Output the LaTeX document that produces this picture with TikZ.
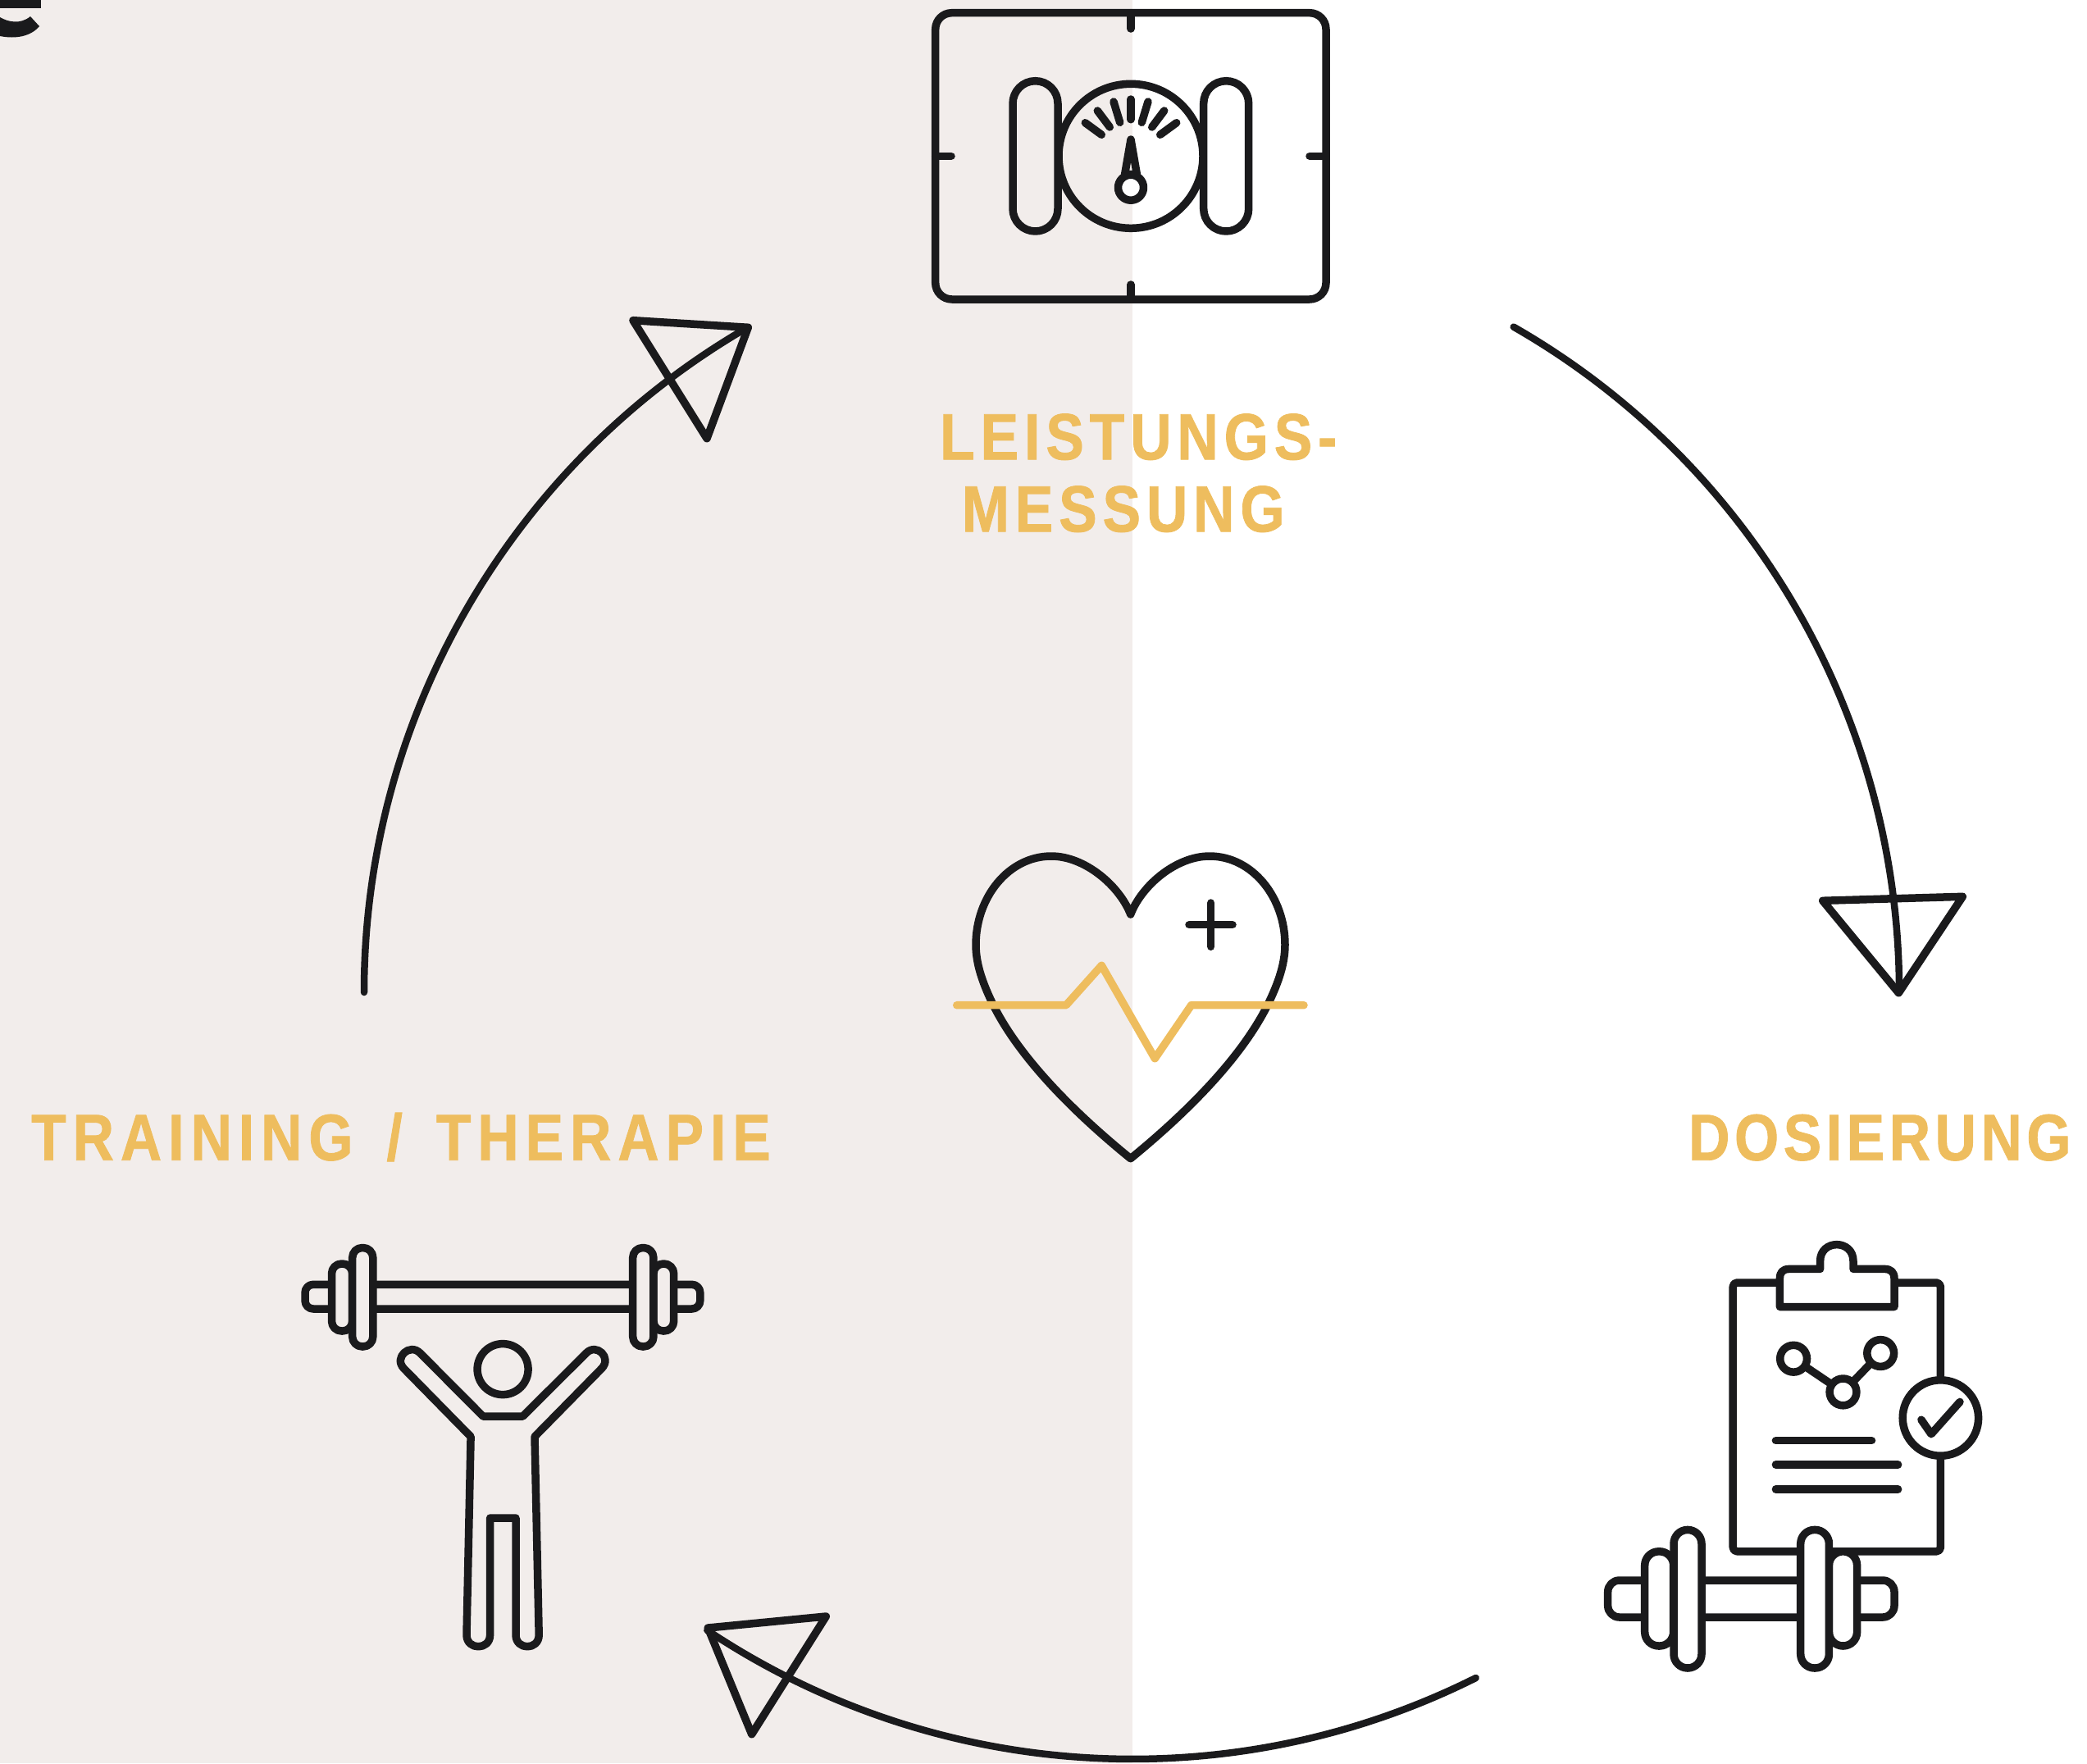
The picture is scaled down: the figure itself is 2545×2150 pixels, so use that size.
\documentclass[tikz,border=0pt]{standalone}
\usepackage{fontspec}
\newfontfamily\labfont[LetterSpace=8.7,FakeStretch=0.87,FakeBold=1]{Liberation Sans}
\newfontfamily\labfontwide[LetterSpace=10,FakeStretch=0.87,FakeBold=1,WordSpace=1.5]{Liberation Sans}
\newfontfamily\labfonttight[LetterSpace=7,FakeStretch=0.87,FakeBold=1]{Liberation Sans}
\definecolor{ink}{HTML}{1A1A1C}
\definecolor{gold}{HTML}{EEBD5E}
\definecolor{paper}{HTML}{F2EDEB}
\tikzset{
  icon/.style={draw=ink,line width=9.5pt,line cap=round,line join=round},
  ecg/.style={draw=gold,line width=9.5pt,line cap=round,line join=round},
  label/.style={text=gold,inner sep=0pt,font=#1\bfseries\fontsize{80}{88}\selectfont},
  pill/.style={icon,rounded corners=#1},
  flow/.style={draw=ink,line width=8.5pt,line cap=round,line join=round},
  tip/.style={draw=ink,line width=9.5pt,line join=round,line cap=round}
}
\begin{document}
\begin{tikzpicture}[x=1pt,y=-1pt]
\useasboundingbox (0,0) rectangle (2545,2150);
\fill[paper] (0,0) rectangle (1381,2150);
% page fragment
\fill[ink] (0,0) rectangle (50,10);
\fill[ink] (0,21) .. controls (10,27) and (25,30) .. (37,20) -- (48,32) .. controls (38,44) and (20,48) .. (0,44) -- cycle;

% scale icon
\draw[pill=20pt] (1140.7,15.7) rectangle (1617,365);
\draw[icon] (1379,15.7) -- (1379,35);
\draw[icon] (1379,347) -- (1379,365);
\draw[icon] (1140.7,190.3) -- (1160,190.3);
\draw[icon] (1597,190.3) -- (1617,190.3);
\draw[pill=27.5pt] (1235,98.7) rectangle (1290,282);
\draw[pill=27.5pt] (1467.7,98.7) rectangle (1522.7,282);
\draw[icon] (1379,190.3) circle[radius=88];
\draw[icon] (1379,121) -- (1379,145.7);
\draw[icon] (1358,124) -- (1365.7,149.3);
\draw[icon] (1400,124) -- (1392.3,149.3);
\draw[icon] (1338.3,135) -- (1353.3,155);
\draw[icon] (1419.7,135) -- (1404.7,155);
\draw[icon] (1323.3,149.7) -- (1343.3,164.3);
\draw[icon] (1434.7,149.7) -- (1414.7,164.3);
\draw[icon] (1379,170) -- (1371.6,212.7) -- (1386.4,212.7) -- cycle;
\draw[icon,fill=white] (1379,228.7) circle[radius=15.5];

% heart
\draw[icon] (1378.7,1115) .. controls (1365,1080) and (1323,1044) .. (1282,1044)
  .. controls (1230,1044) and (1190,1094) .. (1190,1152)
  .. controls (1190,1175) and (1198,1198) .. (1210,1223)
  .. controls (1245,1295) and (1320,1365) .. (1378.7,1412.7)
  .. controls (1437,1365) and (1512,1295) .. (1547,1223)
  .. controls (1559,1198) and (1567,1175) .. (1567,1152)
  .. controls (1567,1094) and (1527,1044) .. (1475,1044)
  .. controls (1434,1044) and (1392,1080) .. (1378.7,1115) -- cycle;
\draw[icon] (1450,1127.7) -- (1503,1127.7);
\draw[icon] (1476.7,1101) -- (1476.7,1154.3);
\draw[ecg] (1166.7,1225.7) -- (1300,1225.7) -- (1343.3,1177.3) -- (1408.3,1290.7) -- (1452.7,1225.7) -- (1590,1225.7);

% clipboard
\draw[pill=5pt] (2113.2,1564) rectangle (2366.4,1891.8);
\draw[icon,fill=white] (2170.4,1593.5) -- (2170.4,1559) .. controls (2170.4,1551.4) and (2174,1547.4) .. (2182,1547.4)
  -- (2219.6,1547.4) -- (2219.6,1537.8) .. controls (2219.6,1510.9) and (2260,1510.9) .. (2260,1537.8) -- (2260,1547.4)
  -- (2298,1547.4) .. controls (2306,1547.4) and (2310,1551.4) .. (2310,1559) -- (2310,1593.5) -- cycle;
\draw[icon] (2187.1,1656.7) -- (2247.5,1697.4) -- (2293.2,1650);
\draw[icon,fill=white] (2187.1,1656.7) circle[radius=16.4];
\draw[icon,fill=white] (2247.5,1697.4) circle[radius=16.4];
\draw[icon,fill=white] (2293.2,1650) circle[radius=16.4];
\draw[icon,fill=white] (2366.4,1729) circle[radius=46.2];
\draw[icon] (2342.9,1731.2) -- (2355,1748.7) -- (2390,1709.4);
\draw[icon] (2165.4,1756.7) -- (2282.5,1756.7);
\draw[icon] (2165.4,1786) -- (2314.6,1786);
\draw[icon] (2165.4,1816) -- (2314.6,1816);
% dumbbell
\draw[pill=14pt,fill=white] (1960.7,1927) rectangle (2310,1972);
\draw[pill=17pt,fill=white] (2005.7,1891.8) rectangle (2040.7,2007);
\draw[pill=17pt,fill=white] (2230.4,1891.8) rectangle (2264.6,2007);
\draw[pill=17pt,fill=white] (2041,1865.4) rectangle (2075,2034);
\draw[pill=17pt,fill=white] (2195.7,1865.4) rectangle (2230.4,2034);

% weightlifter
\draw[pill=10pt,fill=paper] (372,1566.3) rectangle (853.8,1596);
\draw[pill=12pt,fill=paper] (404.5,1541) rectangle (429.7,1623);
\draw[pill=12pt,fill=paper] (796.9,1541) rectangle (821.7,1623);
\draw[pill=12pt,fill=paper] (429.7,1521.5) rectangle (454.8,1642);
\draw[pill=12pt,fill=paper] (771.7,1521.5) rectangle (796.9,1642);
\draw[icon] (613.1,1669.6) circle[radius=31];
\draw[icon] (589,1727) -- (637.6,1727) -- (714.8,1650)
  .. controls (727.5,1637) and (746.5,1655.6) .. (733.8,1668.6)
  -- (652,1751.8) -- (657.2,1993.6)
  .. controls (657.2,2012.5) and (629,2012.5) .. (629,1993.6)
  -- (629,1851) -- (597.6,1851) -- (597.6,1993.6)
  .. controls (597.6,2012.5) and (569,2012.5) .. (569,1993.6)
  -- (574.1,1751.8) -- (492.4,1668.6)
  .. controls (479.7,1655.6) and (499.7,1637) .. (512.4,1650) -- cycle;

% labels
\node[label=\labfont,anchor=base west,align=left] (messung) at (1146,648.3) {LEISTUNGS-\\\hspace*{26.7pt}MESSUNG};
\node[label=\labfontwide,anchor=base west] (training) at (38,1414.7) {TRAINING / THERAPIE};
\node[label=\labfonttight,anchor=base west] (dosierung) at (2059,1414.7) {DOSIERUNG};

% cycle arrows
\coordinate (rightstart) at (1845.7,398.6);
\coordinate (bottomstart) at (1799.7,2046);
\coordinate (leftstart) at (444,1210);
\draw[flow] (rightstart) arc[start angle=-60.2,end angle=0,radius=935];
\draw[flow] (bottomstart) arc[start angle=63.4,end angle=123.7,radius=935];
\draw[flow] (leftstart) arc[start angle=180,end angle=240,radius=936.5];
\draw[tip] (2222.7,1098.3) -- (2393.3,1093.3) -- (2315.3,1210.7) -- cycle;
\draw[tip] (863.3,1985) -- (1007.3,1971) -- (916.7,2114.7) -- cycle;
\draw[tip] (772,390.7) -- (912.3,399.3) -- (862,534.7) -- cycle;
\end{tikzpicture}
\end{document}
